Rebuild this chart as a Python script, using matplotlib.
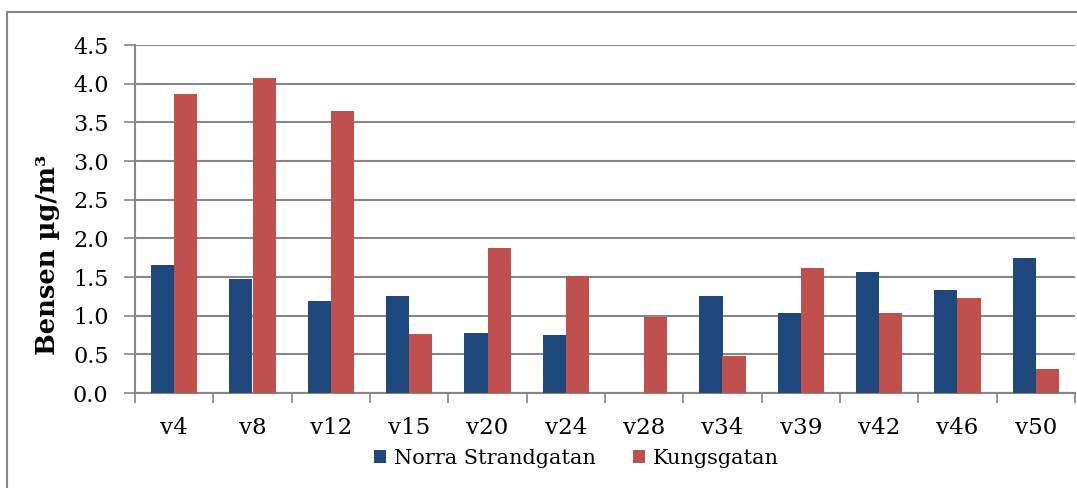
import numpy as np
import matplotlib
matplotlib.use("Agg")
import matplotlib.pyplot as plt
from matplotlib.patches import Rectangle

weeks = ["v4", "v8", "v12", "v15", "v20", "v24", "v28", "v34", "v39", "v42", "v46", "v50"]
norra = [1.65, 1.47, 1.19, 1.25, 0.77, 0.75, 0.0, 1.25, 1.03, 1.57, 1.33, 1.75]
kungs = [3.86, 4.07, 3.65, 0.76, 1.88, 1.51, 0.98, 0.48, 1.62, 1.03, 1.23, 0.31]
yticks = [0.0, 0.5, 1.0, 1.5, 2.0, 2.5, 3.0, 3.5, 4.0, 4.5]

blue = "#1F497D"
red = "#C0504D"
grey = "#878787"

plt.rcParams["font.family"] = ["DejaVu Serif"]

fig = plt.figure(figsize=(10.77, 4.88), dpi=100)
ax = fig.add_axes([135 / 1077, 1 - 393 / 488, 940 / 1077, 348 / 488])

# outer chart frame (right and bottom edges run off the canvas)
fig.patches.append(Rectangle((7 / 1077, -0.1), 1.2, 1 - 12 / 488 + 0.1,
                             transform=fig.transFigure, fill=False,
                             edgecolor=grey, linewidth=1.5))

x = np.arange(len(weeks))
w = 0.295
ax.bar(x - w / 2, norra, w, color=blue, label="Norra Strandgatan", zorder=3)
ax.bar(x + w / 2, kungs, w, color=red, label="Kungsgatan", zorder=3)

ax.set_xlim(-0.5, len(weeks) - 0.5)
ax.set_ylim(0, 4.5)
ax.set_yticks(yticks)
ax.set_yticklabels([f"{v:.1f}" for v in yticks], fontsize=16)
ax.yaxis.grid(True, color=grey, linewidth=1.5, zorder=0)

ax.set_xticks(np.arange(-0.5, len(weeks)), labels=[""] * (len(weeks) + 1))
ax.set_xticks(x, labels=weeks, minor=True, fontsize=16.5)
ax.tick_params(axis="x", which="major", length=7, width=1.2, color=grey, direction="out")
ax.tick_params(axis="x", which="minor", length=0, pad=17)
ax.tick_params(axis="y", length=8, width=1.2, color=grey, pad=11)

for s in ("top", "right"):
    ax.spines[s].set_visible(False)
for s in ("left", "bottom"):
    ax.spines[s].set_color(grey)
    ax.spines[s].set_linewidth(1.5)

ax.set_ylabel("Bensen µg/m³", fontsize=18.5, fontweight="bold")
ax.yaxis.set_label_coords(-75 / 940, 138 / 348)

fig.legend(loc="center", bbox_to_anchor=(0.535, 1 - 458 / 488), ncol=2,
           frameon=False, fontsize=15, handlelength=0.6, handleheight=0.6,
           handletextpad=0.35, columnspacing=1.8)

fig.savefig("out.png", dpi=100)
